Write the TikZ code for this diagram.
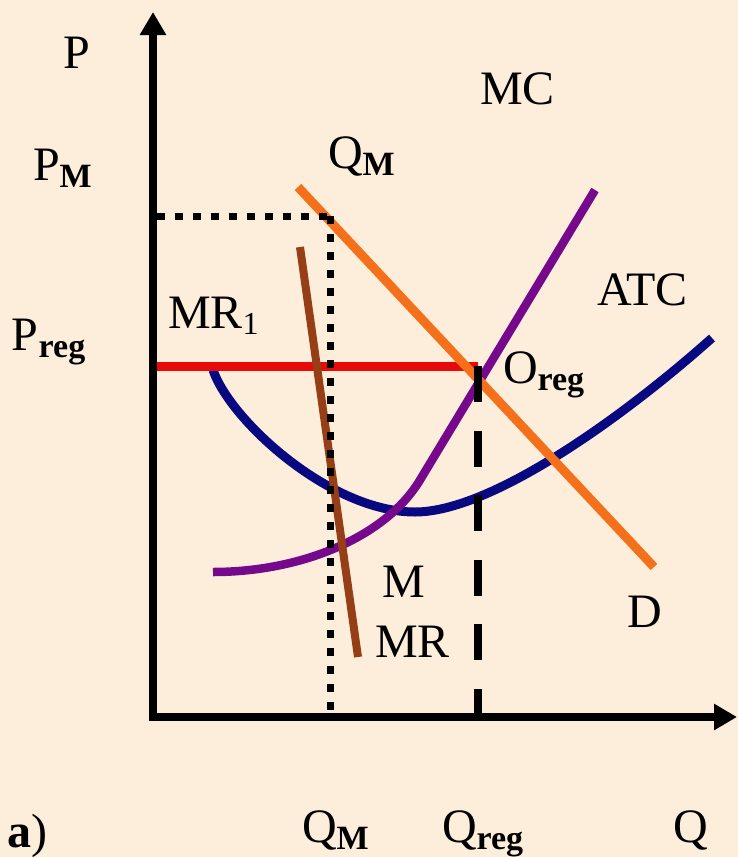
\documentclass[tikz,border=0pt]{standalone}
\usepackage{fontspec}
\setmainfont{Liberation Serif}
\usetikzlibrary{arrows.meta}
\definecolor{bg}{RGB}{253,238,219}
\definecolor{cOrange}{RGB}{244,112,26}
\definecolor{cPurple}{RGB}{118,8,140}
\definecolor{cBlue}{RGB}{8,8,128}
\definecolor{cRed}{RGB}{232,10,10}
\definecolor{cBrown}{RGB}{150,62,22}
\newcommand{\subx}[1]{\raisebox{-7pt}{\fontsize{34}{36}\selectfont\bfseries #1}}
\newcommand{\subn}[1]{\raisebox{-6pt}{\fontsize{32}{34}\selectfont #1}}
\tikzset{
  lbl/.style={inner sep=0pt, outer sep=0pt, anchor=base west, font=\fontsize{48}{50}\selectfont},
  axisline/.style={line width=7.5pt, black, line join=miter},
  curve/.style={line width=9pt, line cap=butt},
  dotline/.style={line width=7pt, black, dash pattern=on 8pt off 10pt},
  dashline/.style={line width=7.5pt, black, dash pattern=on 36pt off 28.6pt},
}
\begin{document}
\begin{tikzpicture}[x=1pt,y=-1pt]
\fill[bg] (0,0) rectangle (738,857);
\useasboundingbox (0,0) rectangle (738,857);

% points
\coordinate (O) at (153,717);
\coordinate (Ytip) at (153,12);
\coordinate (Xtip) at (737,717);
\coordinate (atcL) at (213,370);
\coordinate (atcMin) at (415,512);
\coordinate (atcR) at (712,338);
\coordinate (mcL) at (213,572);
\coordinate (mcK) at (420,480);
\coordinate (mcR) at (595,190);
\coordinate (dT) at (298,187);
\coordinate (dB) at (654,567);
\coordinate (mrT) at (300,247);
\coordinate (mrB) at (358,657);
\coordinate (pregL) at (153,366);
\coordinate (Oreg) at (478,366);
\coordinate (pmL) at (157,216);
\coordinate (pmR) at (334,216);
\coordinate (qmT) at (330,216);
\coordinate (qmB) at (330,717);
\coordinate (qrB) at (478,717);

% ATC
\draw[curve, cBlue] (atcL) .. controls (230,420) and (330,512) .. (atcMin)
  .. controls (490,512) and (620,420) .. (atcR);
% MC
\draw[curve, cPurple, line width=8.5pt] (mcL) .. controls (300,572) and (385,538) .. (mcK) -- (mcR);
% P_reg line
\draw[curve, cRed] (pregL) -- (Oreg);
% MR
\draw[curve, cBrown, line width=8pt] (mrT) -- (mrB);
% D
\draw[curve, cOrange] (dT) -- (dB);
% dotted lines
\draw[dotline] (pmL) -- (pmR);
\draw[dotline] (qmT) -- (qmB);
% dashed line
\draw[dashline] (Oreg) -- (qrB);
% axes
\draw[axisline, {Triangle[length=23pt,width=25pt]}-{Triangle[length=23pt,width=25pt]}] (Ytip) -- (O) -- (Xtip);

% labels
\node[lbl] (lP) at (63,68) {P};
\node[lbl] (lPM) at (33,180) {P\subx{M}};
\node[lbl] (lPreg) at (12,350) {P\subx{reg}};
\node[lbl] (lMR1) at (168,328) {MR\subn{1}};
\node[lbl] (lQMt) at (328,168) {Q\subx{M}};
\node[lbl] (lMC) at (480,104) {MC};
\node[lbl] (lATC) at (597,305) {ATC};
\node[lbl] (lOreg) at (503,383) {O\subx{reg}};
\node[lbl] (lM) at (382,597) {M};
\node[lbl] (lMR) at (375,657) {MR};
\node[lbl] (lD) at (627,627) {D};
\node[lbl] (la) at (8,847) {\textbf{a})};
\node[lbl] (lQMb) at (302,842) {Q\subx{M}};
\node[lbl] (lQreg) at (442,842) {Q\subx{reg}};
\node[lbl] (lQ) at (673,842) {Q};
\end{tikzpicture}
\end{document}
